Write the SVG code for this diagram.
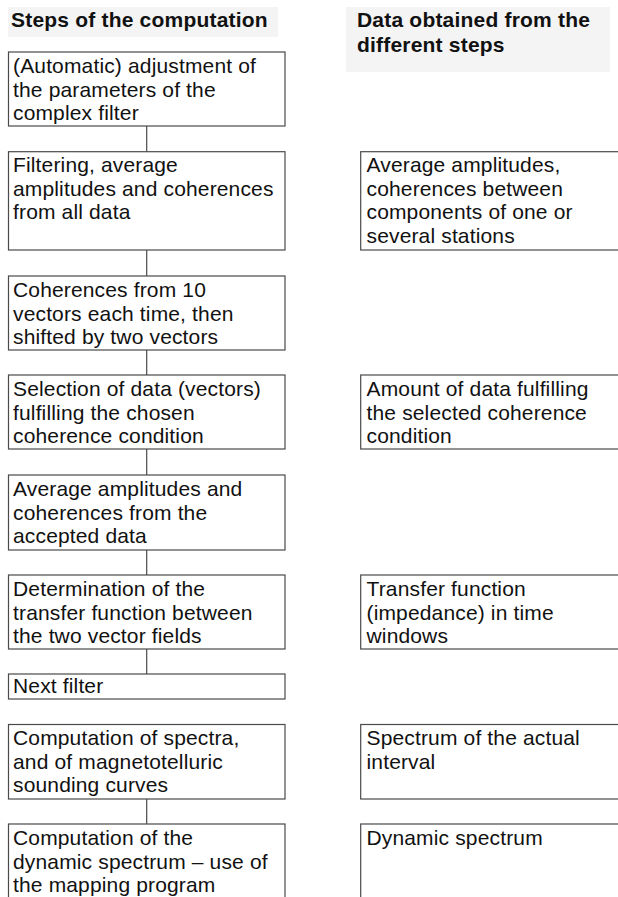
<svg xmlns="http://www.w3.org/2000/svg" width="618" height="897" viewBox="0 0 618 897">
<style>
.bg{fill:#f4f4f4}
.box{fill:#ffffff;stroke:#4a4a4a;stroke-width:1.2}
.t{font-family:"Liberation Sans",Arial,sans-serif;font-size:21px;letter-spacing:0.15px;fill:#111}
.h{font-family:"Liberation Sans",Arial,sans-serif;font-size:21px;font-weight:bold;letter-spacing:0.2px;fill:#111}
.c{stroke:#4a4a4a;stroke-width:1.2;fill:none}
</style>
<rect width="618" height="897" fill="#ffffff"/>
<g id="header-left">
<rect class="bg" x="8" y="7" width="270" height="30"/>
<text class="h" x="11" y="27">Steps of the computation</text>
</g>
<g id="header-right">
<rect class="bg" x="346" y="7" width="264" height="65"/>
<text class="h" x="357" y="27">Data obtained from the</text>
<text class="h" x="357" y="52">different steps</text>
</g>
<g id="connectors">
<line class="c" x1="146.7" y1="126" x2="146.7" y2="151.7"/>
<line class="c" x1="146.7" y1="250" x2="146.7" y2="276"/>
<line class="c" x1="146.7" y1="350" x2="146.7" y2="375"/>
<line class="c" x1="146.7" y1="449" x2="146.7" y2="475"/>
<line class="c" x1="146.7" y1="550" x2="146.7" y2="575"/>
<line class="c" x1="146.7" y1="649" x2="146.7" y2="674"/>
<line class="c" x1="146.7" y1="799" x2="146.7" y2="824"/>
</g>
<g id="step1">
<rect class="box" x="8.5" y="52" width="276.5" height="74"/>
<text class="t" x="13" y="73">(Automatic) adjustment of</text>
<text class="t" x="13" y="97">the parameters of the</text>
<text class="t" x="13" y="120">complex filter</text>
</g>
<g id="step2">
<rect class="box" x="8.5" y="151.7" width="276.5" height="98.3"/>
<text class="t" x="13" y="172">Filtering, average</text>
<text class="t" x="13" y="195.5">amplitudes and coherences</text>
<text class="t" x="13" y="219">from all data</text>
</g>
<g id="step3">
<rect class="box" x="8.5" y="276" width="276.5" height="74"/>
<text class="t" x="13" y="297">Coherences from 10</text>
<text class="t" x="13" y="320.5">vectors each time, then</text>
<text class="t" x="13" y="344">shifted by two vectors</text>
</g>
<g id="step4">
<rect class="box" x="8.5" y="375" width="276.5" height="74"/>
<text class="t" x="13" y="396">Selection of data (vectors)</text>
<text class="t" x="13" y="419.5">fulfilling the chosen</text>
<text class="t" x="13" y="443">coherence condition</text>
</g>
<g id="step5">
<rect class="box" x="8.5" y="475" width="276.5" height="75"/>
<text class="t" x="13" y="496">Average amplitudes and</text>
<text class="t" x="13" y="519.5">coherences from the</text>
<text class="t" x="13" y="543">accepted data</text>
</g>
<g id="step6">
<rect class="box" x="8.5" y="575" width="276.5" height="74"/>
<text class="t" x="13" y="596">Determination of the</text>
<text class="t" x="13" y="619.5">transfer function between</text>
<text class="t" x="13" y="643">the two vector fields</text>
</g>
<g id="step7">
<rect class="box" x="8.5" y="674" width="276.5" height="25"/>
<text class="t" x="13" y="693">Next filter</text>
</g>
<g id="step8">
<rect class="box" x="8.5" y="724.5" width="276.5" height="74.5"/>
<text class="t" x="13" y="745">Computation of spectra,</text>
<text class="t" x="13" y="768.5">and of magnetotelluric</text>
<text class="t" x="13" y="792">sounding curves</text>
</g>
<g id="step9">
<rect class="box" x="8.5" y="824" width="276.5" height="90"/>
<text class="t" x="13" y="845">Computation of the</text>
<text class="t" x="13" y="868.5">dynamic spectrum – use of</text>
<text class="t" x="13" y="892">the mapping program</text>
</g>
<g id="data1">
<rect class="box" x="360.7" y="151.7" width="270" height="98.3"/>
<text class="t" x="366.5" y="172">Average amplitudes,</text>
<text class="t" x="366.5" y="195.5">coherences between</text>
<text class="t" x="366.5" y="219">components of one or</text>
<text class="t" x="366.5" y="242.5">several stations</text>
</g>
<g id="data2">
<rect class="box" x="360.7" y="375" width="270" height="74"/>
<text class="t" x="366.5" y="396">Amount of data fulfilling</text>
<text class="t" x="366.5" y="419.5">the selected coherence</text>
<text class="t" x="366.5" y="443">condition</text>
</g>
<g id="data3">
<rect class="box" x="360.7" y="575" width="270" height="74"/>
<text class="t" x="366.5" y="596">Transfer function</text>
<text class="t" x="366.5" y="619.5">(impedance) in time</text>
<text class="t" x="366.5" y="643">windows</text>
</g>
<g id="data4">
<rect class="box" x="360.7" y="724.5" width="270" height="74.5"/>
<text class="t" x="366.5" y="745">Spectrum of the actual</text>
<text class="t" x="366.5" y="768.5">interval</text>
</g>
<g id="data5">
<rect class="box" x="360.7" y="824" width="270" height="90"/>
<text class="t" x="366.5" y="845">Dynamic spectrum</text>
</g>
</svg>
